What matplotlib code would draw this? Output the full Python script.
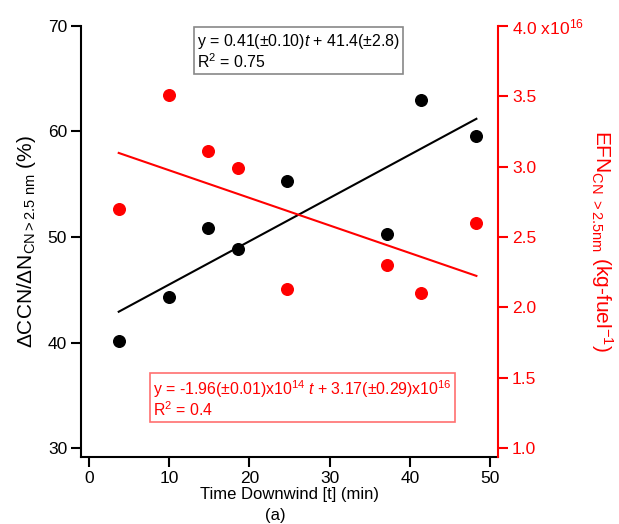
import matplotlib
matplotlib.use("Agg")
import matplotlib.pyplot as plt
import numpy as np

plt.rcParams['font.family'] = ['Liberation Sans', 'DejaVu Sans']
plt.rcParams['mathtext.fontset'] = 'custom'
plt.rcParams['mathtext.rm'] = 'Liberation Sans'
plt.rcParams['mathtext.it'] = 'Liberation Sans:italic'

# time downwind (min)
t_black = [3.7, 10.0, 14.8, 18.6, 24.7, 37.2, 41.4, 48.3]
ccn_ratio = [40.1, 44.3, 50.9, 48.9, 55.3, 50.3, 63.0, 59.6]   # %
t_red = [3.7, 10.0, 14.8, 18.6, 24.7, 37.2, 41.4, 48.3]
ef_cn = [2.70, 3.51, 3.11, 2.99, 2.13, 2.30, 2.10, 2.60]       # x1e16 kg-fuel^-1

# fit coefficients from the annotations
fit_black = (0.41, 41.4)
fit_red = (-1.96e14 / 1e16, 3.17)

right_ticks = [1.0, 1.5, 2.0, 2.5, 3.0, 3.5, 4.0]
right_labels = ['1.0', '1.5', '2.0', '2.5', '3.0', '3.5', '4.0 x10$^{16}$']

fig = plt.figure(figsize=(6.19, 5.24), dpi=100)
ax = fig.add_axes([0.1309, 0.1279, 0.6737, 0.8225])
ax2 = ax.twinx()

red = '#ff0000'

ax.scatter(t_black, ccn_ratio, s=70, color='black', zorder=3)
tt = np.array([min(t_black), max(t_black)])
ax.plot(tt, fit_black[0] * tt + fit_black[1], color='black', lw=1.5)

ax2.scatter(t_red, ef_cn, s=70, color=red, zorder=3)
tt = np.array([min(t_red), max(t_red)])
ax2.plot(tt, fit_red[0] * tt + fit_red[1], color=red, lw=1.5)

ax.set_xlim(-1, 51)
ax.set_ylim(29.15, 70)
ax2.set_ylim(0.936, 4.0)

ax.set_xticks([0, 10, 20, 30, 40, 50])
ax.set_yticks([30, 40, 50, 60, 70])
ax2.set_yticks(right_ticks)
ax2.set_yticklabels(right_labels)

for a in (ax, ax2):
    a.spines['top'].set_visible(False)
ax.spines['right'].set_visible(False)
ax2.spines['left'].set_visible(False)
ax2.spines['bottom'].set_visible(False)
for s in ('left', 'bottom'):
    ax.spines[s].set_linewidth(1.5)
ax2.spines['right'].set_linewidth(1.5)
ax2.spines['right'].set_color(red)

ax.tick_params(axis='both', direction='out', length=7, width=1.5, labelsize=12.5, pad=3)
ax2.tick_params(axis='y', direction='out', length=7, width=1.5, labelsize=12.5,
                colors=red, pad=3)

ax.set_xlabel('Time Downwind [t] (min)', fontsize=12, labelpad=1)
ax.set_ylabel(r'$\Delta$CCN/$\Delta$N$_{\mathrm{CN>2.5\ nm}}$ (%)', fontsize=15, labelpad=7)
ax2.set_ylabel(r'EFN$_{\mathrm{CN\ >2.5nm}}$ (kg-fuel$^{-1}$)', fontsize=15, color=red,
               rotation=270, labelpad=22)
fig.text(0.444, 0.008, '(a)', fontsize=12, ha='center')

ax.text(0.278, 0.985, 'y = 0.41(\u00b10.10)$t$ + 41.4(\u00b12.8)\nR$^2$ = 0.75',
        transform=ax.transAxes, fontsize=11.4, va='top', ha='left', linespacing=1.05,
        bbox=dict(boxstyle='square,pad=0.2', fc='white', ec='#888888', lw=1.2))
ax.text(0.173, 0.183, 'y = -1.96(\u00b10.01)x10$^{14}$ $t$ + 3.17(\u00b10.29)x10$^{16}$\nR$^2$ = 0.4',
        transform=ax.transAxes, fontsize=11.4, va='top', ha='left', color=red, linespacing=1.05,
        bbox=dict(boxstyle='square,pad=0.2', fc='white', ec='#ff7070', lw=1.2))

fig.savefig('out.png', dpi=100)
